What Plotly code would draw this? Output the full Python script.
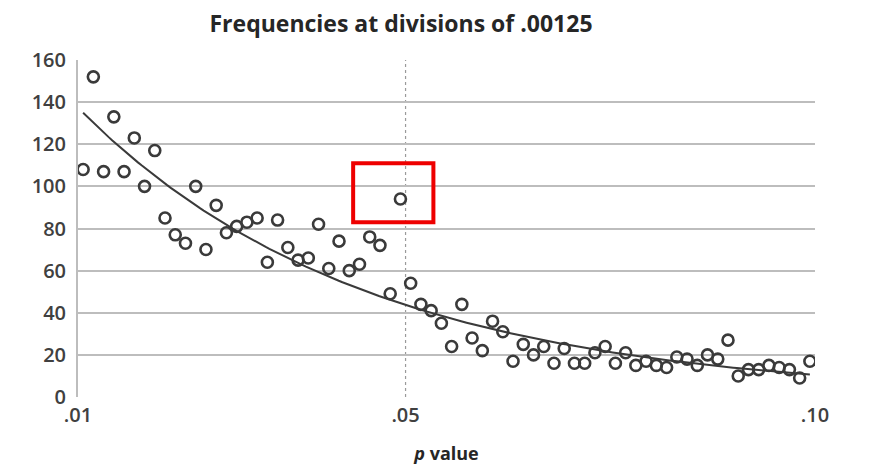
import numpy as np
import plotly.graph_objects as go

# Bin midpoints for p-values from .01 to .10 at divisions of .00125
bin_start = 0.01
bin_width = 0.00125
frequencies = [108, 152, 107, 133, 107, 123, 100, 117, 85, 77,
               73, 100, 70, 91, 78, 81, 83, 85, 64, 84,
               71, 65, 66, 82, 61, 74, 60, 63, 76, 72,
               49, 94, 54, 44, 41, 35, 24, 44, 28, 22,
               36, 31, 17, 25, 20, 24, 16, 23, 16, 16,
               21, 24, 16, 21, 15, 17, 15, 14, 19, 18,
               15, 20, 18, 27, 10, 13, 13, 15, 14, 13,
               9, 17]
p_values = [bin_start + bin_width * (i + 0.5) for i in range(len(frequencies))]

x_tick_vals = [0.01, 0.05, 0.10]
x_tick_text = [".01", ".05", ".10"]
y_tick_vals = [0, 20, 40, 60, 80, 100, 120, 140, 160]

# Exponential trend line (least squares on log values)
px = np.array(p_values)
fy = np.array(frequencies, dtype=float)
b, ln_a = np.polyfit(px, np.log(fy), 1)
trend_x = np.linspace(px[0], px[-1], 200)
trend_y = np.exp(ln_a) * np.exp(b * trend_x)

dark = "#3a3a3a"
grid = "#bdbdbd"
font_family = "'Open Sans', Lato, Arial, sans-serif"

fig = go.Figure()
fig.add_trace(go.Scatter(x=trend_x, y=trend_y, mode="lines",
                         line=dict(color=dark, width=2), hoverinfo="skip",
                         showlegend=False))
fig.add_trace(go.Scatter(x=p_values, y=frequencies, mode="markers",
                         marker=dict(symbol="circle-open", size=11,
                                     color=dark, line=dict(width=2.6, color=dark)),
                         showlegend=False))

# dotted reference line at .05
fig.add_shape(type="line", xref="x", yref="y", x0=0.05, x1=0.05, y0=0, y1=160,
              line=dict(color="#9a9a9a", width=1.2, dash="dot"), layer="below")
# red highlight box around the outlier
fig.add_shape(type="rect", xref="x", yref="y", x0=0.0436, x1=0.0534, y0=83, y1=111,
              line=dict(color="#ee0000", width=4), fillcolor="rgba(0,0,0,0)")

fig.update_layout(
    width=886, height=459,
    margin=dict(l=70, r=79, t=52, b=70, autoexpand=False),
    paper_bgcolor="white", plot_bgcolor="white",
    font=dict(family=font_family, color="#404040", size=20),
    title=dict(text="<b>Frequencies at divisions of .00125</b>",
               x=0.4436, xanchor="center", y=0.9651, yanchor="middle",
               automargin=False,
               font=dict(family=font_family, size=23, color="#262626")),
    xaxis=dict(range=[0.01, 0.10], tickvals=x_tick_vals, ticktext=x_tick_text,
               showgrid=False, zeroline=False, showline=False, ticks="",
               automargin=False, ticklabelstandoff=4,
               tickfont=dict(size=20, color="#404040", weight=600),
               title=dict(text="<b><i>p</i> value</b>", standoff=20,
                          font=dict(size=18, color="#262626"))),
    yaxis=dict(range=[0, 160], tickvals=y_tick_vals, showgrid=True,
               gridcolor=grid, gridwidth=2, zeroline=False,
               showline=True, linecolor=grid, linewidth=2, ticks="",
               automargin=False, ticklabelstandoff=6,
               tickfont=dict(size=20, color="#404040", weight=600)),
)

fig.write_html("out.html")
